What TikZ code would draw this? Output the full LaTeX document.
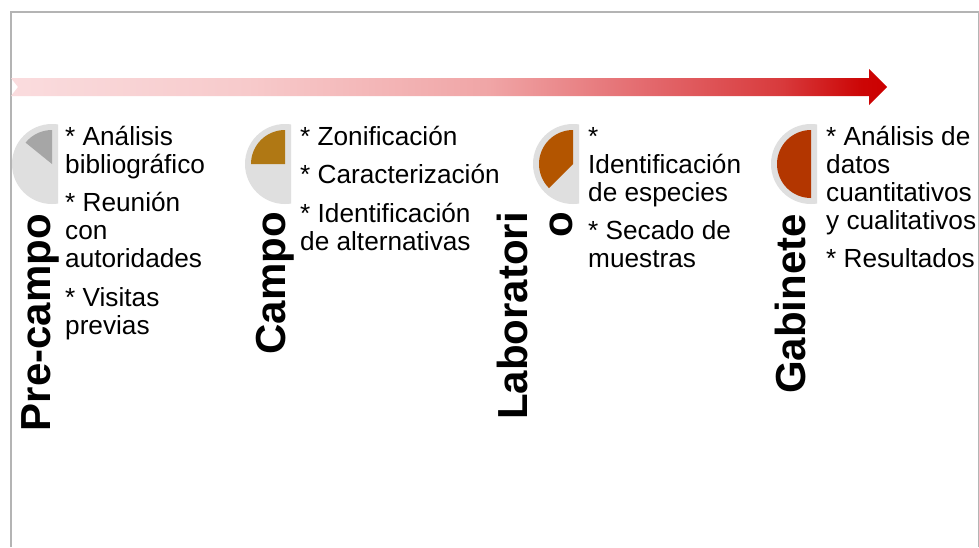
\documentclass[tikz,border=0pt]{standalone}
\usepackage{fontspec}
\setmainfont{Liberation Sans}
\definecolor{framegray}{HTML}{B4B4B4}
\definecolor{piegray}{HTML}{DFDFDF}
\definecolor{sliceA}{HTML}{A6A6A6}
\definecolor{sliceB}{HTML}{B07814}
\definecolor{sliceC}{HTML}{B35500}
\definecolor{sliceD}{HTML}{B33600}
\definecolor{arA}{HTML}{FADCDE}
\definecolor{arB}{HTML}{F7CACB}
\definecolor{arC}{HTML}{F0A5A6}
\definecolor{arD}{HTML}{E3686C}
\definecolor{arE}{HTML}{D83A3C}
\definecolor{arF}{HTML}{CC0606}
\definecolor{arG}{HTML}{CC0000}
\pgfdeclarehorizontalshading{arrowshade}{100bp}{color(0bp)=(arA); color(25bp)=(arA); color(38.5bp)=(arB); color(52.3bp)=(arC); color(61.5bp)=(arD); color(69bp)=(arE); color(73.5bp)=(arF); color(75bp)=(arG); color(100bp)=(arG)}
\tikzset{
  vlabel/.style={rotate=90, inner sep=0pt, anchor=base east, font=\bfseries\fontsize{42}{44}\selectfont},
  btext/.style={inner sep=0pt, anchor=base west}
}
\newcommand{\bul}[1]{\parbox[t]{200pt}{\raggedright\fontsize{26.2}{28}\selectfont #1}}
\newcommand{\pieicon}[3]{%
  \begin{scope}
    \clip (#1-50,-110) rectangle (#1+6,-220);
    \fill[piegray] (#1,-164) circle (40);
  \end{scope}
  \fill[#2] (#1,-164) -- ++(90:34) arc[start angle=90, end angle=#3, radius=34] -- cycle;
}
\begin{document}
\begin{tikzpicture}[x=1pt,y=1pt]
\useasboundingbox (0,0) rectangle (979,-547);
\fill[white] (0,0) rectangle (979,-547);
% frame
\draw[framegray, line width=1.2pt] (11,-547) -- (11,-12) -- (978.4,-12) -- (978.4,-547);
% arrow
\shade[shading=arrowshade] (11,-78) -- (869,-78) -- (869,-69) -- (887,-87) -- (869,-105) -- (869,-96) -- (11,-96) -- (18,-87) -- cycle;
% pies
\pieicon{52}{sliceA}{141}
\pieicon{285}{sliceB}{180}
\pieicon{573}{sliceC}{225}
\pieicon{811}{sliceD}{270}
% vertical labels
\node[vlabel] (precampo) at (50,-214) {Pre-campo};
\node[vlabel] (campo) at (285,-212) {Campo};
\node[vlabel] (lab1) at (527,-212) {Laboratori};
\node[vlabel] (lab2) at (572,-212) {o};
\node[vlabel] (gabinete) at (805,-214) {Gabinete};
% bullet texts
\node[btext] (tprecampo) at (65,-145) {\bul{* Análisis\\ bibliográfico\\[10.5pt] * Reunión\\ con\\ autoridades\\[10.5pt] * Visitas\\ previas}};
\node[btext] (tcampo) at (300,-145) {\bul{* Zonificación\\[10.5pt] * Caracterización\\[10.5pt] * Identificación\\ de alternativas}};
\node[btext] (tlab) at (588,-145) {\bul{*\\ Identificación\\ de especies\\[10.5pt] * Secado de\\ muestras}};
\node[btext] (tgab) at (826,-145) {\bul{* Análisis de\\ datos\\ cuantitativos\\ y cualitativos\\[10.5pt] * Resultados}};
\end{tikzpicture}
\end{document}
